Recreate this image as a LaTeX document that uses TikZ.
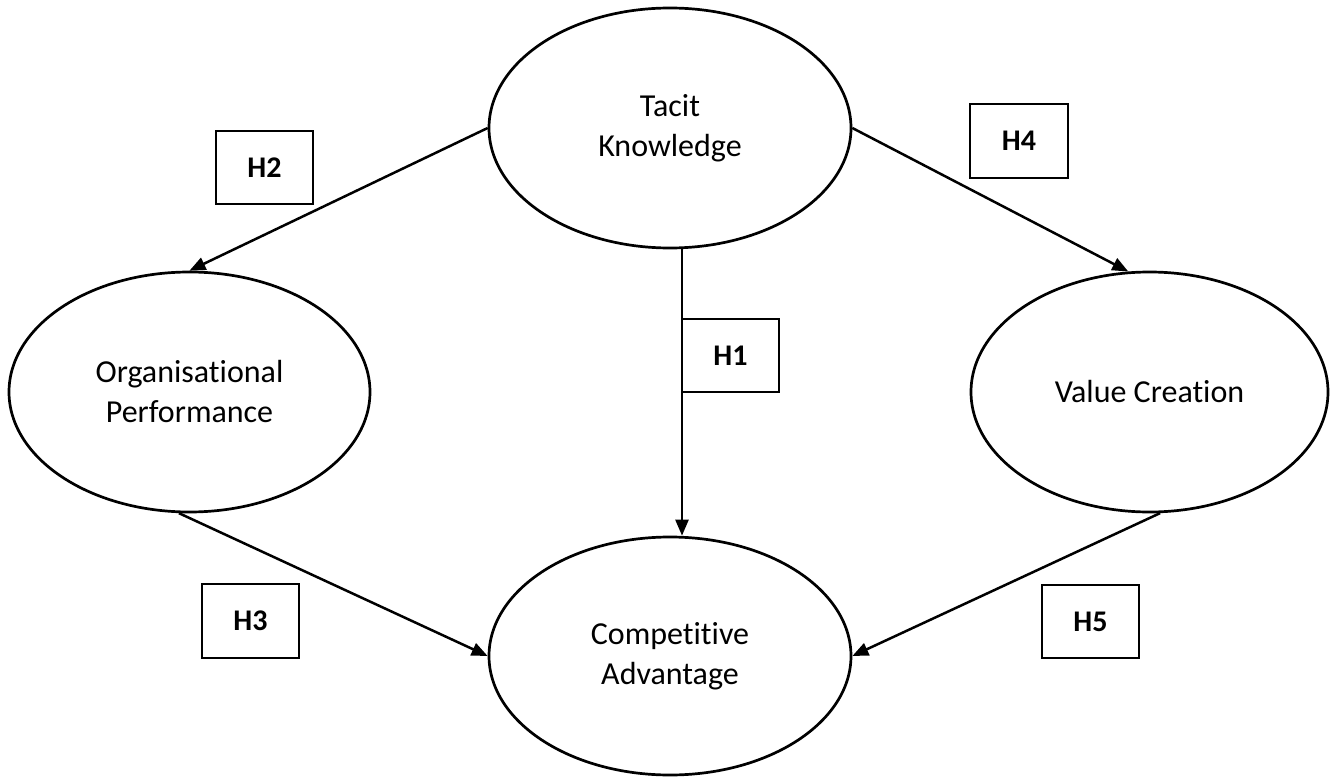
\documentclass[tikz,border=0pt]{standalone}
\usepackage{fontspec}
\setmainfont{Carlito}[Ligatures=NoCommon]
\usetikzlibrary{shapes.geometric,arrows.meta}
\tikzset{
  construct/.style={draw, ellipse, line width=2.7pt, inner sep=0pt, align=center,
    font=\fontsize{32}{40}\selectfont},
  hypbox/.style={draw, rectangle, line width=2.7pt, inner sep=0pt, outer sep=0pt,
    minimum width=97pt, minimum height=73pt, font=\fontsize{30}{36}\selectfont\bfseries},
  arr/.style={line width=2.5pt, -{Triangle[length=16pt,width=13pt]}}
}
\begin{document}
\begin{tikzpicture}[x=1pt,y=-1pt]
\useasboundingbox (0,0) rectangle (1339,778);
\node[construct, minimum width=362pt, minimum height=240pt] (Tacit) at (670,128) {Tacit\\Knowledge};
\node[construct, minimum width=361pt, minimum height=240pt] (Org) at (189.5,392) {Organisational\\Performance};
\node[construct, minimum width=357pt, minimum height=240pt] (VC) at (1149.5,392) {Value Creation};
\node[construct, minimum width=362pt, minimum height=238pt] (CA) at (670,656) {Competitive\\Advantage};
\node[hypbox] (H2) at (264.5,167.5) {H2};
\node[hypbox, minimum width=98pt, minimum height=74pt] (H4) at (1019,141) {H4};
\node[hypbox] (H1) at (730.5,355.5) {H1};
\node[hypbox, minimum height=74pt] (H3) at (250.5,621) {H3};
\node[hypbox] (H5) at (1090.5,621.5) {H5};
\draw[arr] (Tacit.west) -- (Org.north);
\draw[arr] (Tacit.east) -- (VC.100);
\draw[arr] (Tacit.south -| H1.west) -- (CA.north -| H1.west);
\draw[arr] (Org.-95) -- (CA.west);
\draw[arr] (VC.-85) -- (CA.east);
\end{tikzpicture}
\end{document}
